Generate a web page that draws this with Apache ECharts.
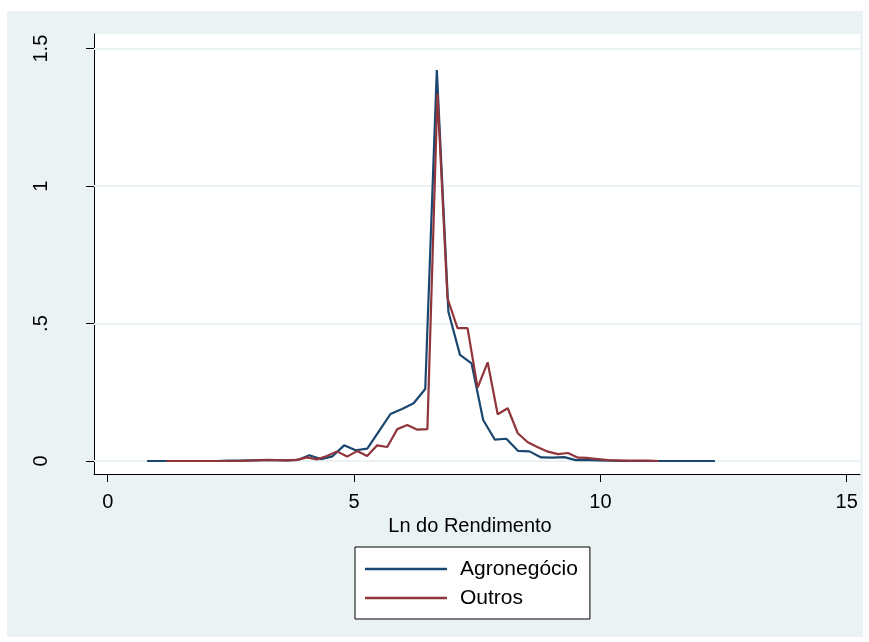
<!DOCTYPE html>
<html>
<head>
<meta charset="utf-8">
<script src="https://cdn.jsdelivr.net/npm/echarts@6/dist/echarts.min.js"></script>
<style>
html,body{margin:0;padding:0;background:#ffffff;}
#chart{width:869px;height:642px;}
</style>
</head>
<body>
<div id="chart"></div>
<script>
// Density estimates (kernel density of Ln do Rendimento)
var agroStart = 0.80, agroStep = 0.2352;
var agroY = [0.000,0.000,0.000,0.000,0.000,0.000,0.000,0.001,0.001,0.002,
             0.003,0.003,0.002,0.004,0.021,0.007,0.017,0.057,0.039,0.045,
             0.108,0.171,0.189,0.210,0.262,1.422,0.543,0.386,0.355,0.149,
             0.078,0.081,0.037,0.035,0.013,0.012,0.014,0.003,0.003,0.002,
             0.001,0.000,0.000,0.000,0.000,0.000,0.000,0.000,0.000,0.000];
var outrosStart = 1.19, outrosStep = 0.2038;
var outrosY = [0.000,0.000,0.000,0.000,0.000,0.000,0.000,0.000,0.001,0.002,
               0.004,0.003,0.002,0.004,0.013,0.006,0.018,0.035,0.016,0.036,
               0.018,0.057,0.051,0.116,0.131,0.114,0.116,1.337,0.592,0.483,
               0.483,0.267,0.359,0.170,0.192,0.101,0.068,0.050,0.034,0.025,
               0.029,0.012,0.011,0.007,0.003,0.002,0.001,0.001,0.001,0.000];
var xTicks = [0, 5, 10, 15];
var yTicks = [0, 0.5, 1, 1.5];
var seriesNames = ['Agronegócio', 'Outros'];
var xTitle = 'Ln do Rendimento';

function toPairs(start, step, ys) {
  return ys.map(function (v, i) { return [start + step * i, v]; });
}

var FONT = '"Liberation Sans", Arial, Helvetica, sans-serif';
var chart = echarts.init(document.getElementById('chart'), null, {renderer: 'canvas'});
chart.setOption({
  backgroundColor: '#ffffff',
  animation: false,
  textStyle: {fontFamily: FONT},
  graphic: [{
    type: 'rect', z: -10, silent: true,
    shape: {x: 7, y: 11, width: 856, height: 626},
    style: {fill: '#eaf2f3'}
  }, {
    type: 'rect', z: -9, silent: true,
    shape: {x: 94, y: 34, width: 766, height: 440},
    style: {fill: '#ffffff'}
  }],
  grid: {left: 94, top: 34, width: 766, height: 440, containLabel: false},
  xAxis: {
    type: 'value', min: -0.278, max: 15.269,
    name: xTitle, nameLocation: 'middle', nameGap: 37,
    nameTextStyle: {fontSize: 20, color: '#000', fontFamily: FONT, padding: [0, 14, 0, 0]},
    axisLine: {show: true, onZero: false, lineStyle: {color: '#000', width: 1}},
    axisTick: {show: true, length: 8, customValues: xTicks, lineStyle: {color: '#000'}},
    axisLabel: {customValues: xTicks, fontSize: 20, color: '#000', margin: 18, fontFamily: FONT},
    splitLine: {show: false}
  },
  yAxis: {
    type: 'value', min: -0.0473, max: 1.5533,
    axisLine: {show: true, onZero: false, lineStyle: {color: '#000', width: 1}},
    axisTick: {show: true, length: 8, customValues: yTicks, lineStyle: {color: '#000'}},
    axisLabel: {
      customValues: yTicks, rotate: 90, fontSize: 20, color: '#000', margin: 43, fontFamily: FONT,
      formatter: function (v) {
        var s = String(v);
        return (v > 0 && v < 1) ? s.replace(/^0/, '') : s;
      }
    },
    splitLine: {show: false}
  },
  legend: {
    left: 355, top: 547, orient: 'vertical',
    padding: [11, 12, 10, 10], itemGap: 7,
    backgroundColor: '#ffffff', borderColor: '#000', borderWidth: 1, borderRadius: 0,
    itemWidth: 82, itemHeight: 2.5, icon: 'rect',
    textStyle: {fontSize: 21, color: '#000', fontFamily: FONT, padding: [0, 0, 0, 8], lineHeight: 22},
    data: seriesNames
  },
  series: [{
    name: seriesNames[0], type: 'line', symbol: 'none', z: 3,
    lineStyle: {color: '#1a476f', width: 2.2},
    itemStyle: {color: '#1a476f'},
    data: toPairs(agroStart, agroStep, agroY),
    markLine: {
      silent: true, symbol: 'none', z: 1, animation: false,
      label: {show: false},
      lineStyle: {color: '#eaf2f3', width: 2, type: 'solid'},
      data: yTicks.map(function (v) { return {yAxis: v}; })
    }
  }, {
    name: seriesNames[1], type: 'line', symbol: 'none', z: 4,
    lineStyle: {color: '#90353b', width: 2.2},
    itemStyle: {color: '#90353b'},
    data: toPairs(outrosStart, outrosStep, outrosY)
  }]
});
</script>
</body>
</html>
